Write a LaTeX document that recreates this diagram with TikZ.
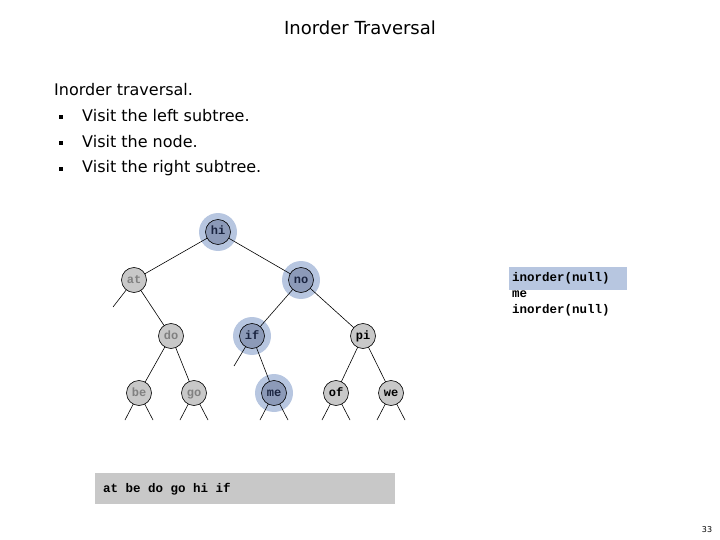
\documentclass[tikz,border=0pt]{standalone}
\usepackage{fontspec}
\setmainfont{DejaVu Sans}
\setmonofont{Liberation Mono}
\definecolor{halo}{HTML}{B7C6E0}
\definecolor{curf}{HTML}{8C9AB8}
\definecolor{curt}{HTML}{1A2440}
\definecolor{nodef}{HTML}{C8C8C8}
\begin{document}
\begin{tikzpicture}[x=1pt,y=-1pt,
  halo/.style={circle,fill=halo,minimum size=38pt,inner sep=0pt},
  tn/.style={circle,draw,line width=0.6pt,minimum size=25pt,inner sep=0pt,text height=7pt,text depth=1pt,font=\ttfamily\bfseries\fontsize{12}{12}\selectfont},
  done/.style={tn,fill=nodef,text=gray},
  cur/.style={tn,fill=curf,text=curt},
  todo/.style={tn,fill=nodef,text=black},
  txt/.style={anchor=west,inner sep=0pt,font=\fontsize{16}{16}\selectfont},
  edge/.style={line width=0.6pt}]
\useasboundingbox (0,0) rectangle (720,540);
\node[font=\fontsize{18}{18}\selectfont] (title) at (360,28) {Inorder Traversal};
\node[txt] (t0) at (54,90) {Inorder traversal.};
\node[txt] (t1) at (82,116) {Visit the left subtree.};
\node[txt] (t2) at (82,142) {Visit the node.};
\node[txt] (t3) at (82,168) {Visit the right subtree.};
\foreach \y in {117,143,169}{\fill (61,\y) ++(-2,-2) rectangle ++(4,4);}
\foreach \p in {(218,232),(301,280),(252,336),(274,393)}{\node[halo] at \p {};}
\coordinate (s1) at (113,307);
\coordinate (s2) at (234,366);
\foreach \x in {139,194,274,336,391}{\coordinate (l\x a) at (\x-14,420);\coordinate (l\x b) at (\x+14,420);}
\draw[edge] (218,232)--(134,280) (218,232)--(301,280) (134,280)--(s1) (134,280)--(171,336)
 (301,280)--(252,336) (301,280)--(363,336) (252,336)--(s2) (252,336)--(274,393)
 (171,336)--(139,393) (171,336)--(194,393) (363,336)--(336,393) (363,336)--(391,393);
\foreach \x in {139,194,274,336,391}{\draw[edge] (\x,393)--(l\x a) (\x,393)--(l\x b);}
\node[cur] (hi) at (218,232) {hi};
\node[done] (at) at (134,280) {at};
\node[cur] (no) at (301,280) {no};
\node[done] (do) at (171,336) {do};
\node[cur] (if) at (252,336) {if};
\node[todo] (pi) at (363,336) {pi};
\node[done] (be) at (139,393) {be};
\node[done] (go) at (194,393) {go};
\node[cur] (me) at (274,393) {me};
\node[todo] (of) at (336,393) {of};
\node[todo] (we) at (391,393) {we};
\fill[halo] (509,267) rectangle (627,290);
\node[anchor=north west,font=\ttfamily\bfseries\fontsize{12.5}{16}\selectfont,align=left,inner sep=0pt] (code) at (512,272)
 {inorder(null)\\me\\inorder(null)};
\fill[nodef] (95,473) rectangle (395,504);
\node[anchor=west,inner sep=0pt,font=\ttfamily\bfseries\fontsize{12.5}{12.5}\selectfont] (out) at (103,489) {at be do go hi if};
\node[font=\fontsize{8}{8}\selectfont] (pg) at (707,530) {33};
\end{tikzpicture}
\end{document}
